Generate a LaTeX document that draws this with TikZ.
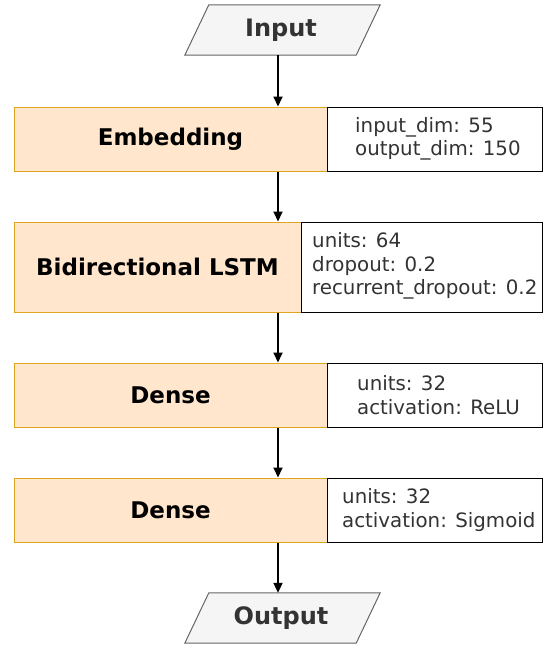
\documentclass[tikz,border=0pt]{standalone}
\usepackage{fontspec}
\setmainfont{DejaVu Sans}
\usetikzlibrary{arrows.meta,calc}
\definecolor{lfill}{HTML}{FFE6CC}
\definecolor{ldraw}{HTML}{DDA520}
\definecolor{iofill}{HTML}{F5F5F5}
\definecolor{iodraw}{HTML}{666666}
\definecolor{iotext}{HTML}{333333}
\begin{document}
\begin{tikzpicture}[x=1pt,y=-1pt,
  layer/.style={draw=ldraw,fill=lfill,line width=1pt,inner sep=0pt,
    font=\fontsize{23}{27}\selectfont\bfseries},
  parbox/.style={draw=black,fill=white,line width=1pt,inner sep=0pt},
  partext/.style={anchor=west,align=left,inner sep=0pt,
    font=\fontsize{19.8}{23.5}\selectfont,text=black!80},
  io/.style={inner sep=0pt,minimum width=195pt,minimum height=50pt,
    font=\fontsize{24}{28}\selectfont\bfseries,text=iotext},
  arr/.style={-{Triangle[length=10pt,width=9pt]},line width=2pt,black}]
\useasboundingbox (0,0) rectangle (542,648);
% Input
\node[io] (in) at (282.5,30) {};
\draw[fill=iofill,draw=iodraw,line width=1pt] (in.south west) -- ([xshift=24pt]in.north west) -- (in.north east) -- ([xshift=-24pt]in.south east) -- cycle;
\node[io] (intext) at (281,30) {Input};
% Embedding
\node[layer,minimum width=313pt,minimum height=64pt] (emb) at (170.5,139) {Embedding};
\node[parbox,minimum width=215pt,minimum height=64pt] (embp) at (434.5,139) {};
\node[partext] (embt) at (355,139) {input\_dim: 55\\output\_dim: 150};
% Bidirectional LSTM
\node[layer,minimum width=287pt,minimum height=90pt] (lstm) at (157.5,267) {Bidirectional LSTM};
\node[parbox,minimum width=241pt,minimum height=90pt] (lstmp) at (421.5,267) {};
\node[partext] (lstmt) at (312,266) {units: 64\\dropout: 0.2\\recurrent\_dropout: 0.2};
% Dense 1
\node[layer,minimum width=313pt,minimum height=64pt] (d1) at (170.5,395) {Dense};
\node[parbox,minimum width=215pt,minimum height=64pt] (d1p) at (434.5,395) {};
\node[partext] (d1t) at (357,395) {units: 32\\activation: ReLU};
% Dense 2
\node[layer,minimum width=313pt,minimum height=64pt] (d2) at (170.5,510) {Dense};
\node[parbox,minimum width=215pt,minimum height=64pt] (d2p) at (434.5,510) {};
\node[partext] (d2t) at (342,510) {units: 32\\activation: Sigmoid};
% Output
\node[io] (out) at (282.5,618) {};
\draw[fill=iofill,draw=iodraw,line width=1pt] (out.south west) -- ([xshift=24pt]out.north west) -- (out.north east) -- ([xshift=-24pt]out.south east) -- cycle;
\node[io] (outtext) at (281,618) {Output};
% arrows
\draw[arr] (in.south -| 278,0) -- (emb.north -| 278,0);
\draw[arr] (emb.south -| 278,0) -- (lstm.north -| 278,0);
\draw[arr] (lstm.south -| 278,0) -- (d1.north -| 278,0);
\draw[arr] (d1.south -| 278,0) -- (d2.north -| 278,0);
\draw[arr] (d2.south -| 278,0) -- (out.north -| 278,0);
\end{tikzpicture}
\end{document}
